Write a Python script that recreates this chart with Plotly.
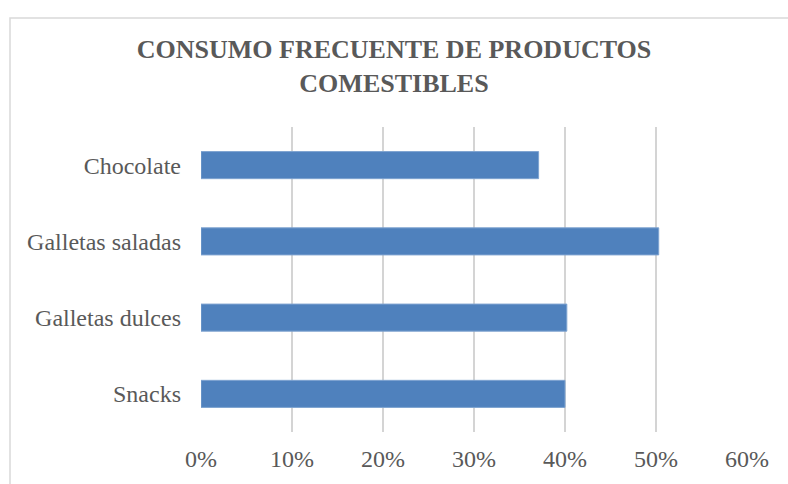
import plotly.graph_objects as go

categories = ["Snacks", "Galletas dulces", "Galletas saladas", "Chocolate"]
values = [0.400, 0.402, 0.503, 0.371]
tick_vals = [0, 0.1, 0.2, 0.3, 0.4, 0.5, 0.6]
tick_text = ["0%", "10%", "20%", "30%", "40%", "50%", "60%"]
title_text = "CONSUMO FRECUENTE DE PRODUCTOS<br>COMESTIBLES"

W, H = 788, 484
ml, mr, mt, mb = 201, 41, 127, 52
pw, ph = W - ml - mr, H - mt - mb

fig = go.Figure()
fig.add_trace(go.Bar(
    y=categories, x=values, orientation="h",
    marker=dict(color="#4F81BD", line=dict(color="#7EA3D0", width=1)),
    hoverinfo="x+y",
))

# outer chart border (top and left edges visible)
bx0 = (10 - ml) / pw
by1 = 1 + (mt - 18) / ph
fig.add_shape(type="rect", xref="paper", yref="paper",
              x0=bx0, x1=1.3, y0=-0.5, y1=by1,
              line=dict(color="#D9D9D9", width=1.5), fillcolor="rgba(0,0,0,0)",
              layer="below")

fig.update_layout(
    width=W, height=H,
    margin=dict(l=ml, r=mr, t=mt, b=mb),
    paper_bgcolor="white", plot_bgcolor="white",
    bargap=0.645,
    showlegend=False,
    font=dict(family="Liberation Serif, Times New Roman, serif", color="#595959", size=24),
    title=dict(text="<b>" + title_text + "</b>", x=0.5, xanchor="center",
               xref="container", yref="container", y=(H - 58) / H, yanchor="middle",
               font=dict(family="Liberation Serif, Times New Roman, serif", size=26, color="#595959")),
)
fig.update_xaxes(range=[0, 0.6], tickvals=tick_vals, ticktext=tick_text,
                 showgrid=True, gridcolor="#D4D4D4", gridwidth=2,
                 zeroline=False, showline=False, ticks="", fixedrange=True,
                 ticklabelstandoff=10,
                 tickfont=dict(size=24, color="#595959"))
fig.update_yaxes(showgrid=False, zeroline=False, showline=False, ticks="",
                 ticklabelstandoff=19, fixedrange=True,
                 tickfont=dict(size=24, color="#595959"))

fig.write_html("out.html")
